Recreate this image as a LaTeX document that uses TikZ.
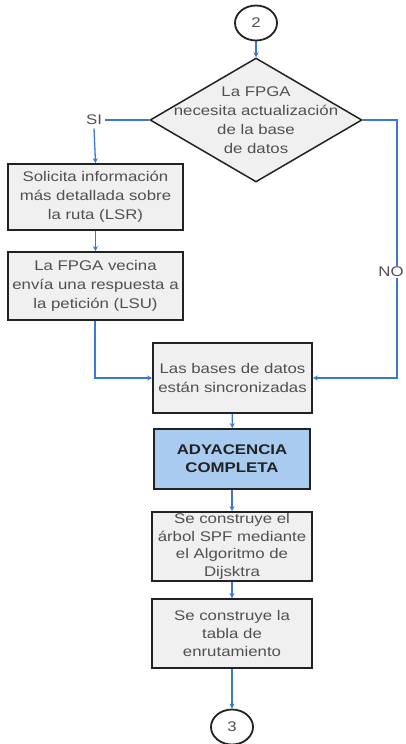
\documentclass[tikz,border=0pt]{standalone}
\usepackage{fontspec}
\setmainfont[FakeStretch=1.2]{Liberation Sans}
\usetikzlibrary{shapes.geometric,arrows.meta}
\definecolor{flow}{HTML}{3B78D6}
\definecolor{boxfill}{HTML}{F0F0F0}
\definecolor{bluefill}{HTML}{A9CBF0}
\definecolor{txtgray}{HTML}{505050}
\definecolor{edge}{HTML}{222222}
\tikzset{
  every node/.style={font=\fontsize{14pt}{19pt}\selectfont, text=txtgray, align=center},
  procbox/.style={draw=edge, line width=1.8pt, fill=boxfill, inner sep=0pt},
  keybox/.style={procbox, fill=bluefill},
  decision/.style={diamond, draw=edge, line width=1.5pt, fill=boxfill, inner sep=0pt, minimum width=212pt, minimum height=124pt, shape aspect=1.71},
  connector/.style={ellipse, draw=edge, line width=1.8pt, fill=white, minimum width=42pt, minimum height=35pt, inner sep=0pt},
  flowline/.style={draw=flow, line width=1.3pt},
  flowarrow/.style={flowline, -{Stealth[length=5pt,width=5pt]}},
  lbl/.style={inner sep=1pt, fill=white}
}
\begin{document}
\begin{tikzpicture}[x=1pt,y=-1pt]
\useasboundingbox (0,0) rectangle (406,744);
\node[connector] (c2) at (256,23) {2};
\node[decision] (d) at (256,120) {};
\node at (d.center) {La FPGA\\necesita actualización\\de la base\\de datos};
\node (si) at (94,120) {SI};
\node[procbox, minimum width=175pt, minimum height=66pt] (b1) at (95.5,197) {Solicita información\\más detallada sobre\\la ruta (LSR)};
\node[procbox, minimum width=175pt, minimum height=68pt] (b2) at (95.5,286) {La FPGA vecina\\envía una respuesta a\\la petición (LSU)};
\node[procbox, minimum width=159pt, minimum height=70pt] (b3) at (232.5,378) {Las bases de datos\\están sincronizadas};
\node[keybox, minimum width=156pt, minimum height=60pt, text=edge, font=\fontsize{14pt}{18pt}\selectfont\bfseries] (b4) at (232,459) {ADYACENCIA\\COMPLETA};
\node[procbox, minimum width=160pt, minimum height=69pt, font=\fontsize{14pt}{17.5pt}\selectfont] (b5) at (232,546.5) {Se construye el\\árbol SPF mediante\\el Algoritmo de\\Dijsktra};
\node[procbox, minimum width=160pt, minimum height=69pt, font=\fontsize{14pt}{18pt}\selectfont] (b6) at (232,633.5) {Se construye la\\tabla de\\enrutamiento};
\node[connector] (c3) at (232,727) {3};
\coordinate (nocorner) at (397,120);
\coordinate (b2turn) at (95,378);

\draw[flowarrow] (c2) -- (d.north);
\draw[flowline] (d.west) -- (si.east);
\draw[flowarrow] (si.south) -- (b1.north);
\draw[flowarrow] (b1) -- (b2);
\draw[flowarrow] (b2.south -| b2turn) -- (b2turn) -- (b3.west);
\draw[flowarrow] (d.east) -- (nocorner) -- (nocorner |- b3.east) -- (b3.east);
\node[lbl] (no) at (391,272) {NO};
\draw[flowarrow] (b3) -- (b4);
\draw[flowarrow] (b4) -- (b5);
\draw[flowarrow] (b5) -- (b6);
\draw[flowarrow] (b6) -- (c3);
\end{tikzpicture}
\end{document}
